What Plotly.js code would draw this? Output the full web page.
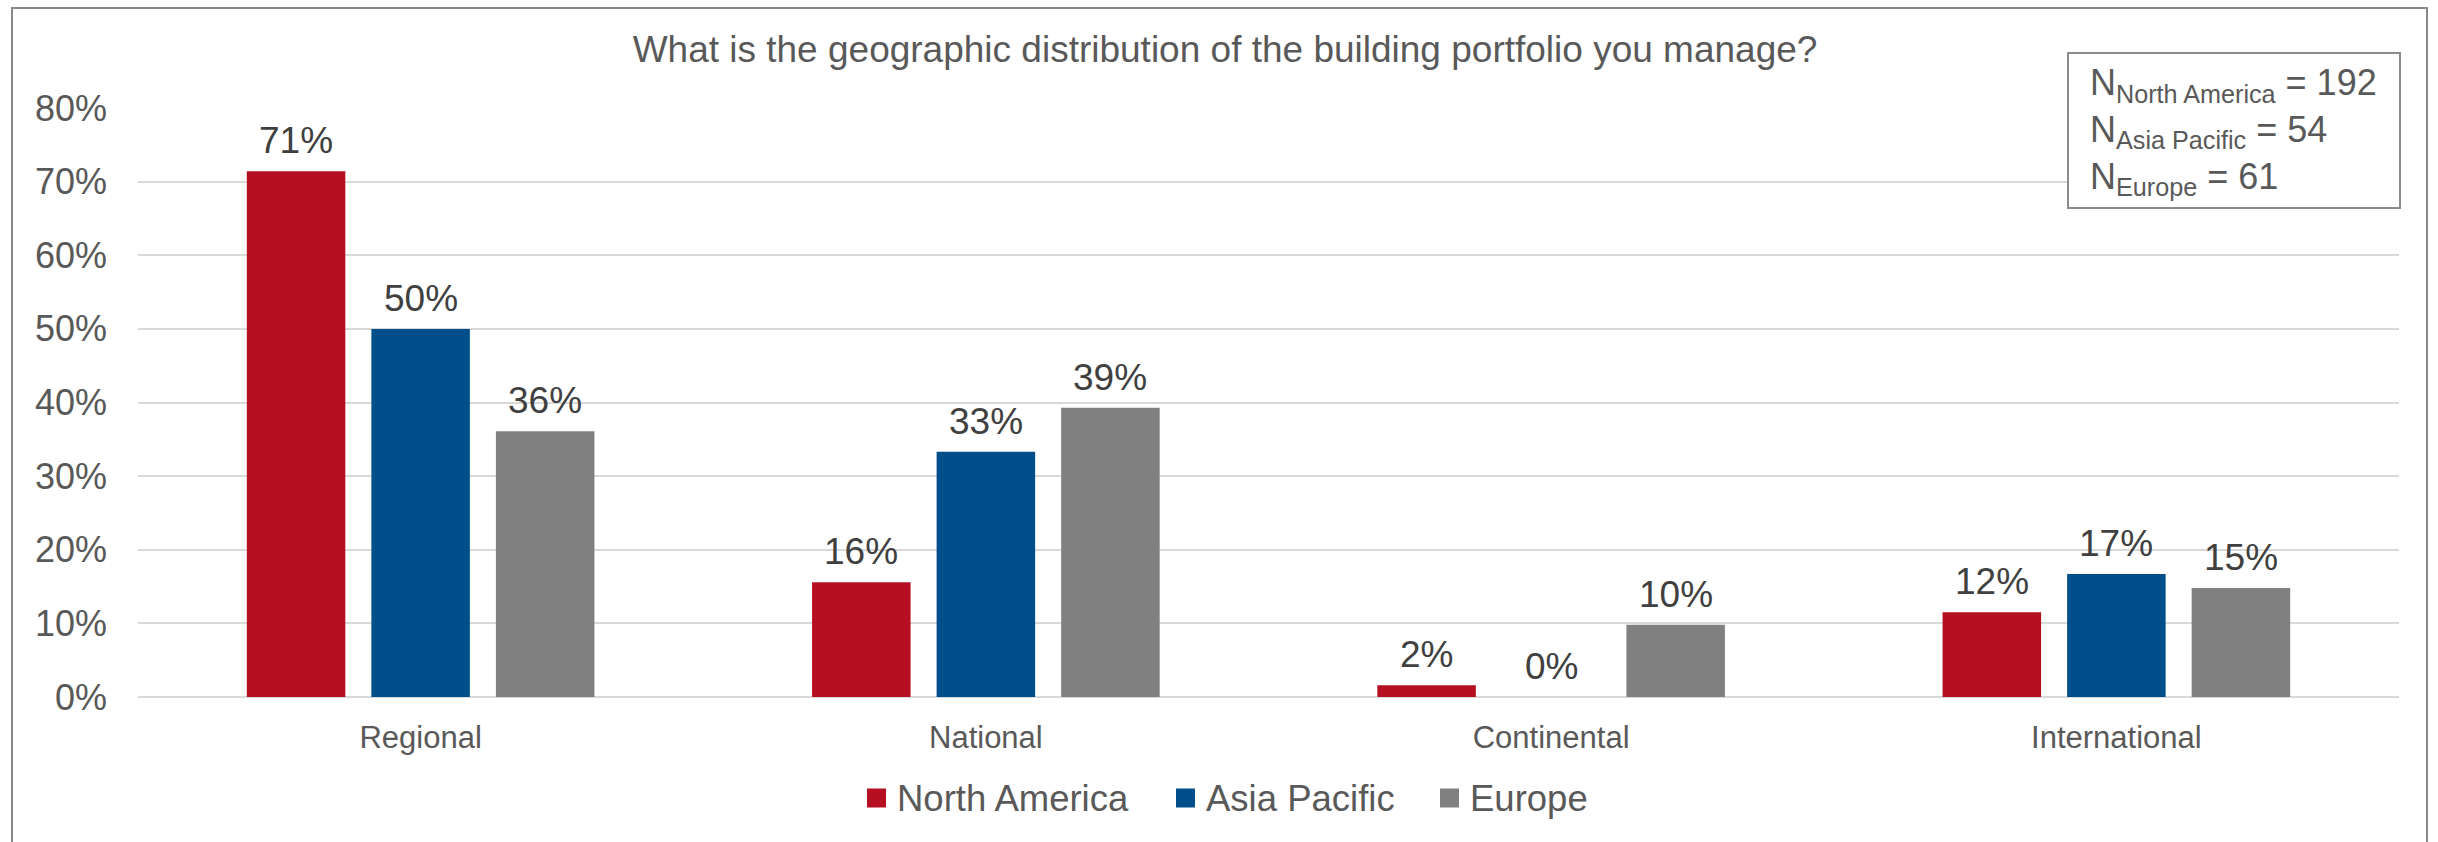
<!DOCTYPE html>
<html>
<head>
<meta charset="utf-8">
<script src="https://cdn.plot.ly/plotly-3.0.1.min.js"></script>
<style>
  html, body { margin: 0; padding: 0; background: #ffffff; }
  #chart { width: 2438px; height: 842px; }
</style>
</head>
<body>
<div id="chart"></div>
<script>
// ---- Data ----
const categories = ["Regional", "National", "Continental", "International"];
const seriesNames = ["North America", "Asia Pacific", "Europe"];
const northAmerica = [71.4, 15.6, 1.6, 11.5];
const asiaPacific = [50.0, 33.3, 0.0, 16.7];
const europe = [36.1, 39.3, 9.8, 14.8];
const sampleSizes = [192, 54, 61];
const yTickValues = [0, 10, 20, 30, 40, 50, 60, 70, 80];
const chartTitle = "What is the geographic distribution of the building portfolio you manage?";

// ---- Styles ----
const colors = ["#B70F22", "#004F8B", "#808080"];
const FONT = 'Arial, "Liberation Sans", sans-serif';
const seriesValues = [northAmerica, asiaPacific, europe];

const W = 2438, H = 842;
const margin = { l: 138, r: 39, t: 108, b: 145 };
const plotW = W - margin.l - margin.r;
const plotH = H - margin.t - margin.b;
const px2x = px => (px - margin.l) / plotW;        // page px -> paper x
const px2y = py => (H - margin.b - py) / plotH;    // page px -> paper y
const slotPx = 124.5; // spacing between bar centres in a group

const traces = seriesValues.map((vals, i) => ({
  type: "bar",
  name: seriesNames[i],
  x: categories,
  y: vals,
  marker: { color: colors[i], line: { width: 0 } },
  hoverinfo: "x+y+name",
  showlegend: false
}));

const annotations = [];
seriesValues.forEach((vals, i) => {
  vals.forEach((v, j) => {
    annotations.push({
      x: categories[j], y: v, xref: "x", yref: "y",
      text: Math.round(v) + "%",
      showarrow: false,
      xanchor: "center", yanchor: "bottom",
      xshift: (i - 1) * slotPx, yshift: 8,
      font: { family: FONT, size: 37, color: "#404040" }
    });
  });
});

const shapes = [];

// Outer frame
shapes.push({
  type: "rect", xref: "paper", yref: "paper",
  x0: px2x(12), x1: px2x(2427), y0: px2y(880), y1: px2y(8),
  line: { color: "#898989", width: 2 }, fillcolor: "rgba(0,0,0,0)",
  layer: "below"
});

// N box frame
shapes.push({
  type: "rect", xref: "paper", yref: "paper",
  x0: px2x(2068), x1: px2x(2400), y0: px2y(208), y1: px2y(53),
  line: { color: "#8c8c8c", width: 2 }, fillcolor: "#ffffff",
  layer: "above"
});
annotations.push({
  xref: "paper", yref: "paper",
  x: px2x(2089), y: px2y(131),
  xanchor: "left", yanchor: "middle",
  align: "left", showarrow: false,
  text: seriesNames.map((n, i) => "N<sub>" + n + "</sub> = " + sampleSizes[i]).join("<br>"),
  font: { family: FONT, size: 36, color: "#595959" },
  borderpad: 0
});

// Legend (drawn manually for exact swatch size/spacing)
const legendSwatchX = [867, 1176, 1440];
const legendTextX = [896, 1205, 1469];
const legendY = 798;
seriesNames.forEach((n, i) => {
  shapes.push({
    type: "rect", xref: "paper", yref: "paper",
    x0: px2x(legendSwatchX[i]), x1: px2x(legendSwatchX[i] + 19),
    y0: px2y(legendY + 9.5), y1: px2y(legendY - 9.5),
    line: { width: 0 }, fillcolor: colors[i], layer: "above"
  });
  annotations.push({
    xref: "paper", yref: "paper",
    x: px2x(legendTextX[i]), y: px2y(legendY),
    xanchor: "left", yanchor: "middle", showarrow: false,
    text: n,
    font: { family: FONT, size: 36.5, color: "#595959" },
    borderpad: 0
  });
});

const layout = {
  width: W, height: H,
  margin: margin,
  paper_bgcolor: "#ffffff", plot_bgcolor: "#ffffff",
  font: { family: FONT, color: "#595959" },
  title: {
    text: chartTitle,
    font: { family: FONT, size: 37, color: "#595959" },
    x: 1225 / W, xanchor: "center",
    y: 1 - 62 / H, yanchor: "bottom", yref: "container"
  },
  barmode: "group",
  bargap: 0.339,
  bargroupgap: 0.209,
  xaxis: {
    type: "category",
    showgrid: false, showline: false, zeroline: false,
    ticks: "",
    tickfont: { family: FONT, size: 31, color: "#595959" },
    ticklabelstandoff: 19
  },
  yaxis: {
    range: [0, 80],
    tickvals: yTickValues,
    ticktext: yTickValues.map(v => v + "%"),
    showgrid: true, gridcolor: "#D9D9D9", gridwidth: 2,
    zeroline: true, zerolinecolor: "#D9D9D9", zerolinewidth: 2,
    showline: false, ticks: "",
    tickfont: { family: FONT, size: 36, color: "#595959" },
    ticklabelstandoff: 30
  },
  showlegend: false,
  annotations: annotations,
  shapes: shapes
};

Plotly.newPlot("chart", traces, layout, { displayModeBar: false, staticPlot: true });
</script>
</body>
</html>
